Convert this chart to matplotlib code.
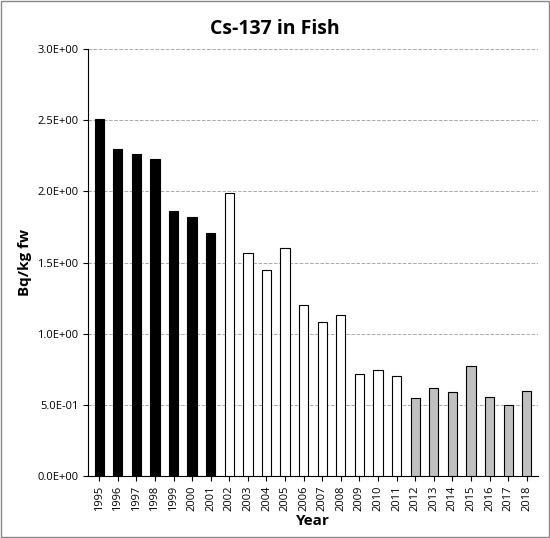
import matplotlib
matplotlib.use("Agg")
import matplotlib.pyplot as plt
from matplotlib.ticker import FixedLocator

years = [str(y) for y in range(1995, 2019)]
values = [2.51, 2.30, 2.26, 2.23, 1.86, 1.82, 1.71, 1.99, 1.57, 1.45, 1.60, 1.20,
          1.08, 1.13, 0.72, 0.745, 0.70, 0.55, 0.62, 0.59, 0.77, 0.555, 0.50, 0.60]
groups = ["black"] * 7 + ["white"] * 10 + ["grey"] * 7
colormap = {"black": "#000000", "white": "#ffffff", "grey": "#c0c0c0"}

plt.rcParams['font.family'] = ['Open Sans', 'DejaVu Sans']
fig = plt.figure(figsize=(5.5, 5.38), dpi=100)
ax = fig.add_axes([0.16, 0.115, 0.818, 0.794])
x = range(len(years))
ax.bar(x, values, width=0.5, color=[colormap[g] for g in groups],
       edgecolor="black", linewidth=0.8, zorder=3)
ax.set_ylim(0, 3.0)
ax.set_xlim(-0.6, len(years) - 0.4)
yt = [0, 0.5, 1.0, 1.5, 2.0, 2.5, 3.0]
ax.yaxis.set_major_locator(FixedLocator(yt))
ax.set_yticklabels(["%.1fE+00" % v if v >= 1 else ("0.0E+00" if v == 0 else "5.0E-01") for v in yt], fontsize=8)
ax.set_xticks(list(x))
ax.set_xticklabels(years, rotation=90, fontsize=8)
ax.grid(axis='y', linestyle='--', color='#aaaaaa', linewidth=0.7, zorder=0)
for s in ['top', 'right']:
    ax.spines[s].set_visible(False)
ax.set_ylabel("Bq/kg fw", fontsize=11, fontweight='bold')
ax.set_xlabel("Year", fontsize=11, fontweight='bold', labelpad=2)
fig.suptitle("Cs-137 in Fish", fontsize=14, fontweight='bold', y=0.965, x=0.5)
fig.patches.append(plt.Rectangle((0.002, 0.002), 0.996, 0.996, transform=fig.transFigure,
                                 fill=False, edgecolor='#888888', linewidth=1))
fig.savefig("out.png", dpi=100)
